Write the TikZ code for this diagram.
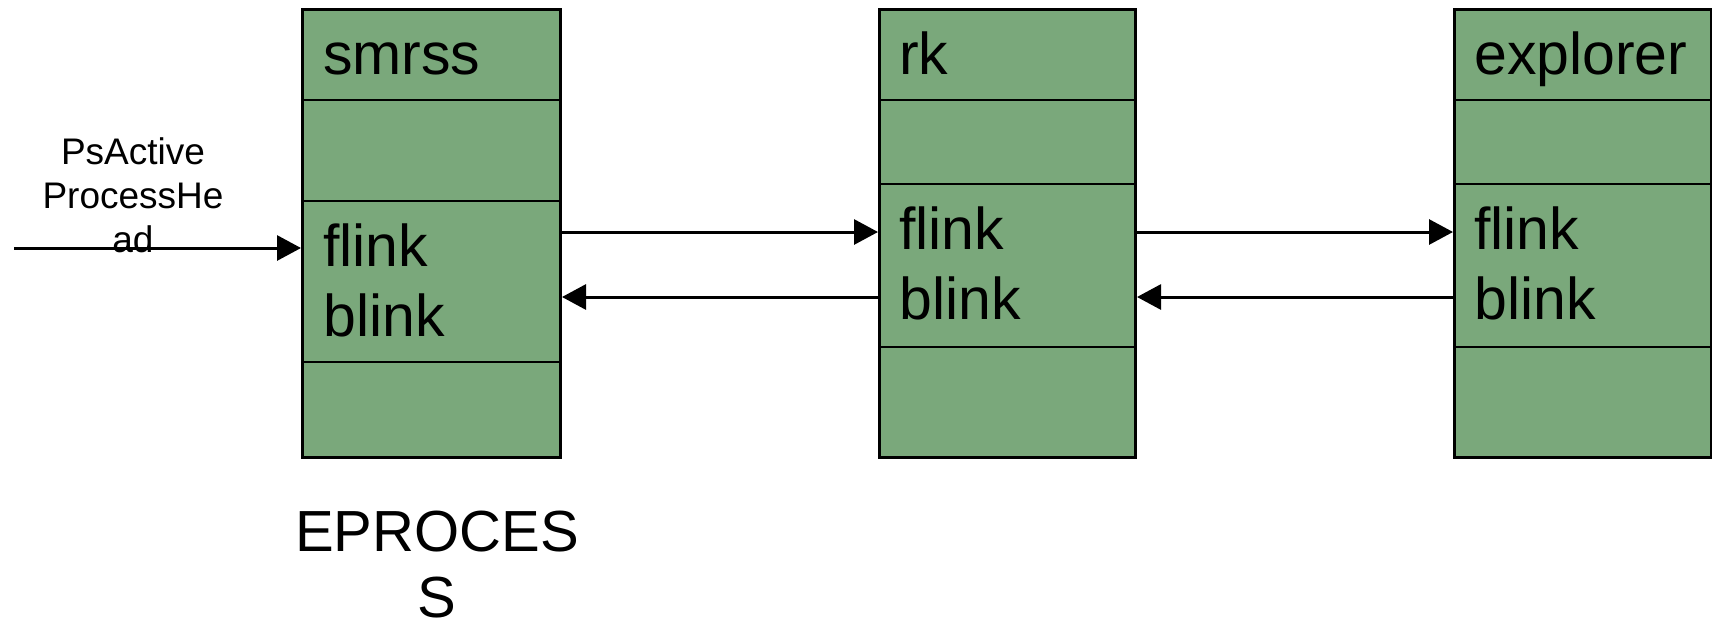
\documentclass[tikz,border=0pt]{standalone}
\usepackage{fontspec}
\setmainfont{Liberation Sans}
\usetikzlibrary{arrows.meta}
\definecolor{boxgreen}{RGB}{122,168,123}
\begin{document}
\begin{tikzpicture}[x=1pt,y=-1pt,
  sect/.style={draw=black, line width=2pt, fill=boxgreen, inner sep=0pt, anchor=north west, minimum width=#1},
  outer/.style={draw=black, line width=3pt, inner sep=0pt, anchor=north west, minimum width=#1, minimum height=448pt},
  lbl/.style={font=\fontsize{59}{70}\selectfont, anchor=base west, inner sep=0pt},
  captext/.style={font=\fontsize{58}{70}\selectfont, anchor=base, inner sep=0pt},
  smalltext/.style={font=\fontsize{37}{44}\selectfont, anchor=base, inner sep=0pt},
  arr/.style={draw=black, line width=3pt, -{Triangle[length=24pt,width=25pt]}}]
\useasboundingbox (0,0) rectangle (1712,624);
% box 1
\node[sect=258pt, minimum height=91pt] (a1) at (301,8) {};
\node[sect=258pt, minimum height=101pt] (a2) at (301,99) {};
\node[sect=258pt, minimum height=161pt] (a3) at (301,200) {};
\node[sect=258pt, minimum height=95pt] (a4) at (301,361) {};
\node[outer=258pt] (b1) at (301,8) {};
% box 2
\node[sect=256pt, minimum height=91pt] (c1) at (878,8) {};
\node[sect=256pt, minimum height=84pt] (c2) at (878,99) {};
\node[sect=256pt, minimum height=163pt] (c3) at (878,183) {};
\node[sect=256pt, minimum height=110pt] (c4) at (878,346) {};
\node[outer=256pt] (b2) at (878,8) {};
% box 3
\node[sect=257pt, minimum height=91pt] (d1) at (1453,8) {};
\node[sect=257pt, minimum height=84pt] (d2) at (1453,99) {};
\node[sect=257pt, minimum height=163pt] (d3) at (1453,183) {};
\node[sect=257pt, minimum height=110pt] (d4) at (1453,346) {};
\node[outer=257pt] (b3) at (1453,8) {};
% texts
\node[lbl] (t1) at (323,74) {smrss};
\node[lbl] (t2) at (323,266) {flink};
\node[lbl] (t3) at (323,336) {blink};
\node[lbl] (u1) at (899,74) {rk};
\node[lbl] (u2) at (899,249) {flink};
\node[lbl] (u3) at (899,319) {blink};
\node[lbl] (v1) at (1474,74) {explorer};
\node[lbl] (v2) at (1474,249) {flink};
\node[lbl] (v3) at (1474,319) {blink};
\node[captext] (e1) at (437,551) {EPROCES};
\node[captext] (e2) at (437,617) {S};
% arrows
\coordinate (fy) at (0,232);
\coordinate (by) at (0,297);
\coordinate (start) at (14,248);
\draw[arr] (b1.east |- fy) -- (b2.west |- fy);
\draw[arr] (b2.east |- fy) -- (b3.west |- fy);
\draw[arr] (b3.west |- by) -- (b2.east |- by);
\draw[arr] (b2.west |- by) -- (b1.east |- by);
\draw[arr] (start) -- (b1.west |- start);
\node[smalltext] (p1) at (133,164) {PsActive};
\node[smalltext] (p2) at (133,208) {ProcessHe};
\node[smalltext] (p3) at (133,252) {ad};
\end{tikzpicture}
\end{document}
